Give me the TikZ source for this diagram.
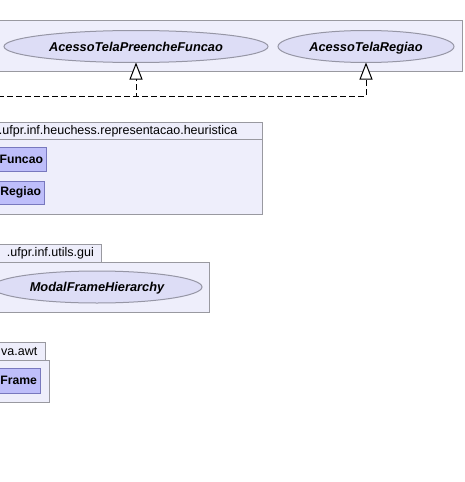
\documentclass[tikz,border=0pt]{standalone}
\usepackage{fontspec}
\setmainfont{Liberation Sans}
\usetikzlibrary{shapes.geometric,arrows.meta}
\definecolor{pkgfill}{RGB}{238,238,251}
\definecolor{pkgline}{RGB}{153,153,160}
\definecolor{ifill}{RGB}{221,221,246}
\definecolor{iline}{RGB}{150,150,165}
\definecolor{cfill}{RGB}{190,190,250}
\definecolor{cline}{RGB}{120,120,190}
\tikzset{
  pkg/.style={draw=pkgline,fill=pkgfill,line width=1pt,rectangle,inner sep=0pt,outer sep=0pt,anchor=north west},
  pkglabel/.style={font=\fontsize{12.5}{14}\selectfont,inner sep=0pt,anchor=east},
  iface/.style={draw=iline,fill=ifill,line width=1pt,ellipse,inner sep=0pt,outer sep=0pt,
     text height=9pt,text depth=0pt,
     font=\fontsize{12.8}{15}\selectfont\bfseries\itshape},
  cls/.style={draw=cline,fill=cfill,line width=1pt,rectangle,inner ysep=0pt,inner xsep=3pt,outer sep=0pt,
     anchor=north east,align=right,font=\fontsize{12.2}{14}\selectfont\bfseries},
  real/.style={line width=1pt,dash pattern=on 6pt off 3pt,
     -{Triangle[fill=white,width=13pt,length=17pt,line width=1pt]}}
}
\begin{document}
\begin{tikzpicture}[x=1pt,y=-1pt]
\useasboundingbox[fill=white] (0,0) rectangle (465,482);
% top package
\node[pkg,minimum width=467pt,minimum height=51pt] (p1) at (-5,20) {};
\node[iface,minimum width=264pt,minimum height=32pt] (e1) at (136,46.5) {AcessoTelaPreencheFuncao};
\node[iface,minimum width=176pt,minimum height=32pt] (e2) at (366,46.5) {AcessoTelaRegiao};
% heuristica package
\node[pkg,minimum width=267pt,minimum height=17pt] (p2h) at (-5,122) {};
\node[pkg,minimum width=267pt,minimum height=75pt] (p2) at (-5,139) {};
\node[pkglabel] (p2t) at (237.5,131) {.ufpr.inf.heuchess.representacao.heuristica};
\node[cls,text width=47pt,minimum height=24pt] (c1) at (46,147) {Funcao};
\node[cls,text width=45pt,minimum height=23pt] (c2) at (44,181) {Regiao};
% gui package
\node[pkg,minimum width=106pt,minimum height=18pt] (p3h) at (-5,244) {};
\node[pkg,minimum width=214pt,minimum height=50pt] (p3) at (-5,262) {};
\node[pkglabel] (p3t) at (94,253.5) {.ufpr.inf.utils.gui};
\node[iface,minimum width=210pt,minimum height=32pt] (e3) at (97,287) {ModalFrameHierarchy};
% awt package
\node[pkg,minimum width=50pt,minimum height=18pt] (p4h) at (-5,342) {};
\node[pkg,minimum width=54pt,minimum height=42pt] (p4) at (-5,360) {};
\node[pkglabel] (p4t) at (37.5,351.5) {va.awt};
\node[cls,text width=39pt,minimum height=25pt] (c3) at (40,368) {Frame};
% realizations
\coordinate (L) at (-2,96);
\draw[real] (L) -| (e1.south);
\draw[real] (L) -| (e2.south);
\end{tikzpicture}
\end{document}
